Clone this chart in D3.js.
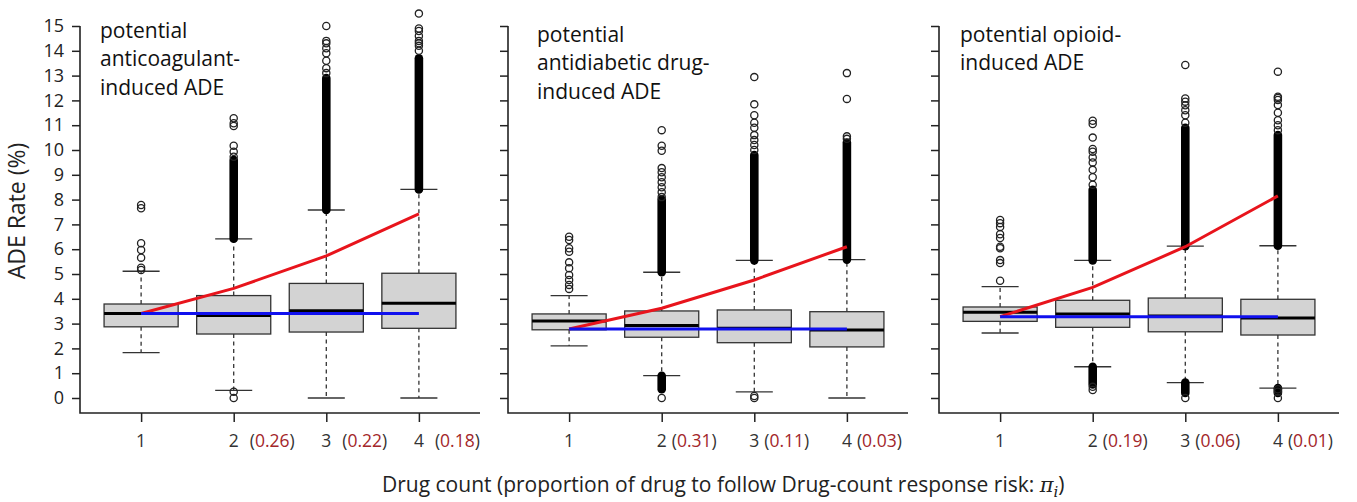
<!DOCTYPE html>
<meta charset="utf-8">
<style>
body { margin: 0; background: #fff; }
svg { font-family: "Open Sans", sans-serif; }
</style>
<body>
<script src="https://d3js.org/d3.v7.min.js"></script>
<script>

// ---- data ----
var groups = [1, 2, 3, 4];
var panelTitles = [
  ["potential", "anticoagulant-", "induced ADE"],
  ["potential", "antidiabetic drug-", "induced ADE"],
  ["potential opioid-", "induced ADE"]
];
var proportions = [
  [null, "0.26", "0.22", "0.18"],
  [null, "0.31", "0.11", "0.03"],
  [null, "0.19", "0.06", "0.01"]
];
var yTicks = d3.range(0, 16);

// [lower whisker, Q1, median, Q3, upper whisker]
var statsAnticoag = [[1.83, 2.87, 3.41, 3.79, 5.11], [0.31, 2.58, 3.33, 4.13, 6.42], [0.0, 2.66, 3.52, 4.62, 7.58], [0.0, 2.81, 3.82, 5.03, 8.41]];
var statsAntidiab = [[2.10, 2.75, 3.10, 3.39, 4.13], [0.90, 2.45, 2.92, 3.51, 5.07], [0.25, 2.23, 2.81, 3.55, 5.55], [0.0, 2.06, 2.74, 3.48, 5.58]];
var statsOpioid   = [[2.62, 3.09, 3.46, 3.67, 4.49], [1.26, 2.85, 3.39, 3.94, 5.55], [0.62, 2.67, 3.31, 4.03, 6.12], [0.40, 2.54, 3.23, 3.98, 6.14]];

// outliers so packed they print as a solid column: [from, to]
var denseAnticoag = [[], [[6.42, 9.6]], [[7.58, 12.9]], [[8.41, 13.7]]];
var denseAntidiab = [[], [[5.07, 8.0], [0.35, 0.9]], [[5.55, 9.8]], [[5.58, 10.3]]];
var denseOpioid   = [[], [[5.55, 8.4], [0.55, 1.26]], [[6.12, 10.9], [0.2, 0.62]], [[6.14, 10.6], [0.2, 0.4]]];

// single outliers that stay visible
var outAnticoag = [
  [5.16, 5.25, 5.66, 5.97, 6.24, 7.65, 7.78],
  [9.73, 9.93, 10.17, 10.97, 11.08, 11.28, 0.25, 0.0],
  [13.1, 13.3, 13.6, 13.9, 14.1, 14.3, 14.4, 15.0],
  [14.0, 14.2, 14.3, 14.4, 14.6, 14.8, 14.9, 15.5]
];
var outAntidiab = [
  [4.40, 4.56, 4.76, 4.96, 5.23, 5.47, 5.90, 6.04, 6.37, 6.50],
  [8.1, 8.3, 8.5, 8.7, 8.9, 9.1, 9.27, 9.97, 10.17, 10.8, 0.0],
  [10.0, 10.2, 10.4, 10.6, 10.9, 11.1, 11.4, 11.84, 12.94, 0.08, 0.0],
  [10.45, 10.55, 12.06, 13.1]
];
var outOpioid = [
  [4.73, 5.44, 5.56, 6.04, 6.1, 6.45, 6.6, 6.9, 7.05, 7.18],
  [8.6, 8.9, 9.2, 9.5, 9.7, 9.93, 10.04, 10.5, 11.05, 11.18, 0.45, 0.32],
  [11.1, 11.4, 11.6, 11.8, 11.95, 12.08, 13.43, 0.0],
  [10.8, 11.0, 11.2, 11.5, 11.81, 12.02, 12.1, 12.15, 13.16, 0.35, 0.25, 0.0]
];

// drug-count response curve (red) and flat reference (blue)
var redAnticoag = [3.41, 4.42, 5.73, 7.42];
var redAntidiab = [2.78, 3.62, 4.76, 6.10];
var redOpioid   = [3.28, 4.46, 6.10, 8.15];
var blueAnticoag = [3.41, 3.41, 3.41, 3.41];
var blueAntidiab = [2.78, 2.78, 2.78, 2.78];
var blueOpioid   = [3.28, 3.28, 3.28, 3.28];

var panels = [
  {stats: statsAnticoag, dense: denseAnticoag, out: outAnticoag, red: redAnticoag, blue: blueAnticoag},
  {stats: statsAntidiab, dense: denseAntidiab, out: outAntidiab, red: redAntidiab, blue: blueAntidiab},
  {stats: statsOpioid,   dense: denseOpioid,   out: outOpioid,   red: redOpioid,   blue: blueOpioid}
];

// ---- layout ----
var W = 1357, H = 502;
var panelX = [80, 508, 939];
var panelW = 400;
var titleY = [37.5, 41.5, 41.5];
var titleDx = [20, 29, 21];
var propGap = [16, 10, 10];
var axisBottom = 413;
var r = 3.6;

var svg = d3.select("body").append("svg")
    .attr("width", W)
    .attr("height", H);

svg.append("rect").attr("width", W).attr("height", H).attr("fill", "#fff");

var x = d3.scaleLinear().domain([0.34, 4.66]).range([0, panelW]);
var y = d3.scaleLinear().domain([0, 15]).range([398, 26]);
var boxW = x(1.8) - x(1);

panels.forEach(function(p, pi) {
  var g = svg.append("g").attr("transform", "translate(" + panelX[pi] + ",0)");

  // axes
  var ya = d3.axisLeft(y).tickValues(yTicks).tickSize(8).tickPadding(8)
      .tickFormat(pi === 0 ? d3.format("d") : function() { return ""; });
  var yg = g.append("g").call(ya);
  yg.select(".domain").remove();
  yg.selectAll("line").attr("stroke", "#222").attr("stroke-width", 1.5);
  yg.selectAll("text").attr("font-size", 18).attr("fill", "#222")
    .attr("font-family", "'Open Sans', sans-serif");

  var xa = d3.axisBottom(x).tickValues(groups).tickSize(9).tickFormat(function() { return ""; });
  var xg = g.append("g").attr("transform", "translate(0," + axisBottom + ")").call(xa);
  xg.select(".domain").remove();
  xg.selectAll("line").attr("stroke", "#222").attr("stroke-width", 1.5);

  g.append("path")
    .attr("d", "M0," + y(15) + "V" + axisBottom + "H" + panelW)
    .attr("fill", "none").attr("stroke", "#222").attr("stroke-width", 1.6);

  // x labels
  groups.forEach(function(k, i) {
    g.append("text").attr("x", x(k)).attr("y", 447)
      .attr("text-anchor", "middle").attr("font-size", 17.5).attr("fill", "#333")
      .text(k);
    if (proportions[pi][i]) {
      var t = g.append("text").attr("x", x(k) + propGap[pi]).attr("y", 447)
        .attr("font-size", 17.5).attr("fill", "#333");
      t.append("tspan").text("(");
      t.append("tspan").attr("fill", "#a3262a").text(proportions[pi][i]);
      t.append("tspan").text(")");
    }
  });

  // titles
  panelTitles[pi].forEach(function(line, li) {
    g.append("text").attr("x", titleDx[pi]).attr("y", titleY[pi] + li * 28.8)
      .attr("font-size", 21).attr("fill", "#111").text(line);
  });

  // boxes
  p.stats.forEach(function(s, i) {
    var cx = x(groups[i]);
    var bg = g.append("g");
    [[s[3], s[4]], [s[1], s[0]]].forEach(function(w) {
      bg.append("line").attr("x1", cx).attr("x2", cx).attr("y1", y(w[0])).attr("y2", y(w[1]))
        .attr("stroke", "#333").attr("stroke-width", 1.3).attr("stroke-dasharray", "4,3.5");
      bg.append("line").attr("x1", cx - boxW / 4).attr("x2", cx + boxW / 4)
        .attr("y1", y(w[1])).attr("y2", y(w[1]))
        .attr("stroke", "#333").attr("stroke-width", 1.3);
    });
    bg.append("rect").attr("x", cx - boxW / 2).attr("width", boxW)
      .attr("y", y(s[3])).attr("height", y(s[1]) - y(s[3]))
      .attr("fill", "#d3d3d3").attr("stroke", "#333").attr("stroke-width", 1.3);

    p.dense[i].forEach(function(d) {
      bg.append("rect").attr("x", cx - r - 0.7).attr("width", 2 * r + 1.4)
        .attr("y", y(d[1]) - r - 0.7).attr("height", y(d[0]) - y(d[1]) + 2 * r + 1.4)
        .attr("rx", r + 0.7).attr("fill", "#000");
    });
    bg.selectAll("circle.o").data(p.out[i]).enter().append("circle")
      .attr("cx", cx).attr("cy", function(v) { return y(v); }).attr("r", r)
      .attr("fill", "none").attr("stroke", "#222").attr("stroke-width", 1.3);

    bg.append("line").attr("x1", cx - boxW / 2).attr("x2", cx + boxW / 2)
      .attr("y1", y(s[2])).attr("y2", y(s[2]))
      .attr("stroke", "#000").attr("stroke-width", 3);
  });

  var line = d3.line().x(function(v, i) { return x(groups[i]); }).y(function(v) { return y(v); });
  g.append("path").attr("d", line(p.red)).attr("fill", "none")
    .attr("stroke", "#e8141c").attr("stroke-width", 3);
  g.append("path").attr("d", line(p.blue)).attr("fill", "none")
    .attr("stroke", "#1010ee").attr("stroke-width", 3);
});

// axis titles
svg.append("text")
  .attr("transform", "translate(25,211) rotate(-90)")
  .attr("text-anchor", "middle").attr("font-size", 23).attr("fill", "#222")
  .text("ADE Rate (%)");

var xt = svg.append("text").attr("x", 382).attr("y", 492)
  .attr("font-size", 21).attr("fill", "#222");
xt.append("tspan").text("Drug count (proportion of drug to follow Drug-count response risk: ");
xt.append("tspan").attr("font-family", "'DejaVu Serif', serif").attr("font-style", "italic").text("\u03C0");
xt.append("tspan").attr("font-family", "'DejaVu Serif', serif").attr("font-style", "italic")
  .attr("font-size", 15).attr("dy", 5).text("i");
xt.append("tspan").attr("dy", -5).text(")");

</script>
</body>
